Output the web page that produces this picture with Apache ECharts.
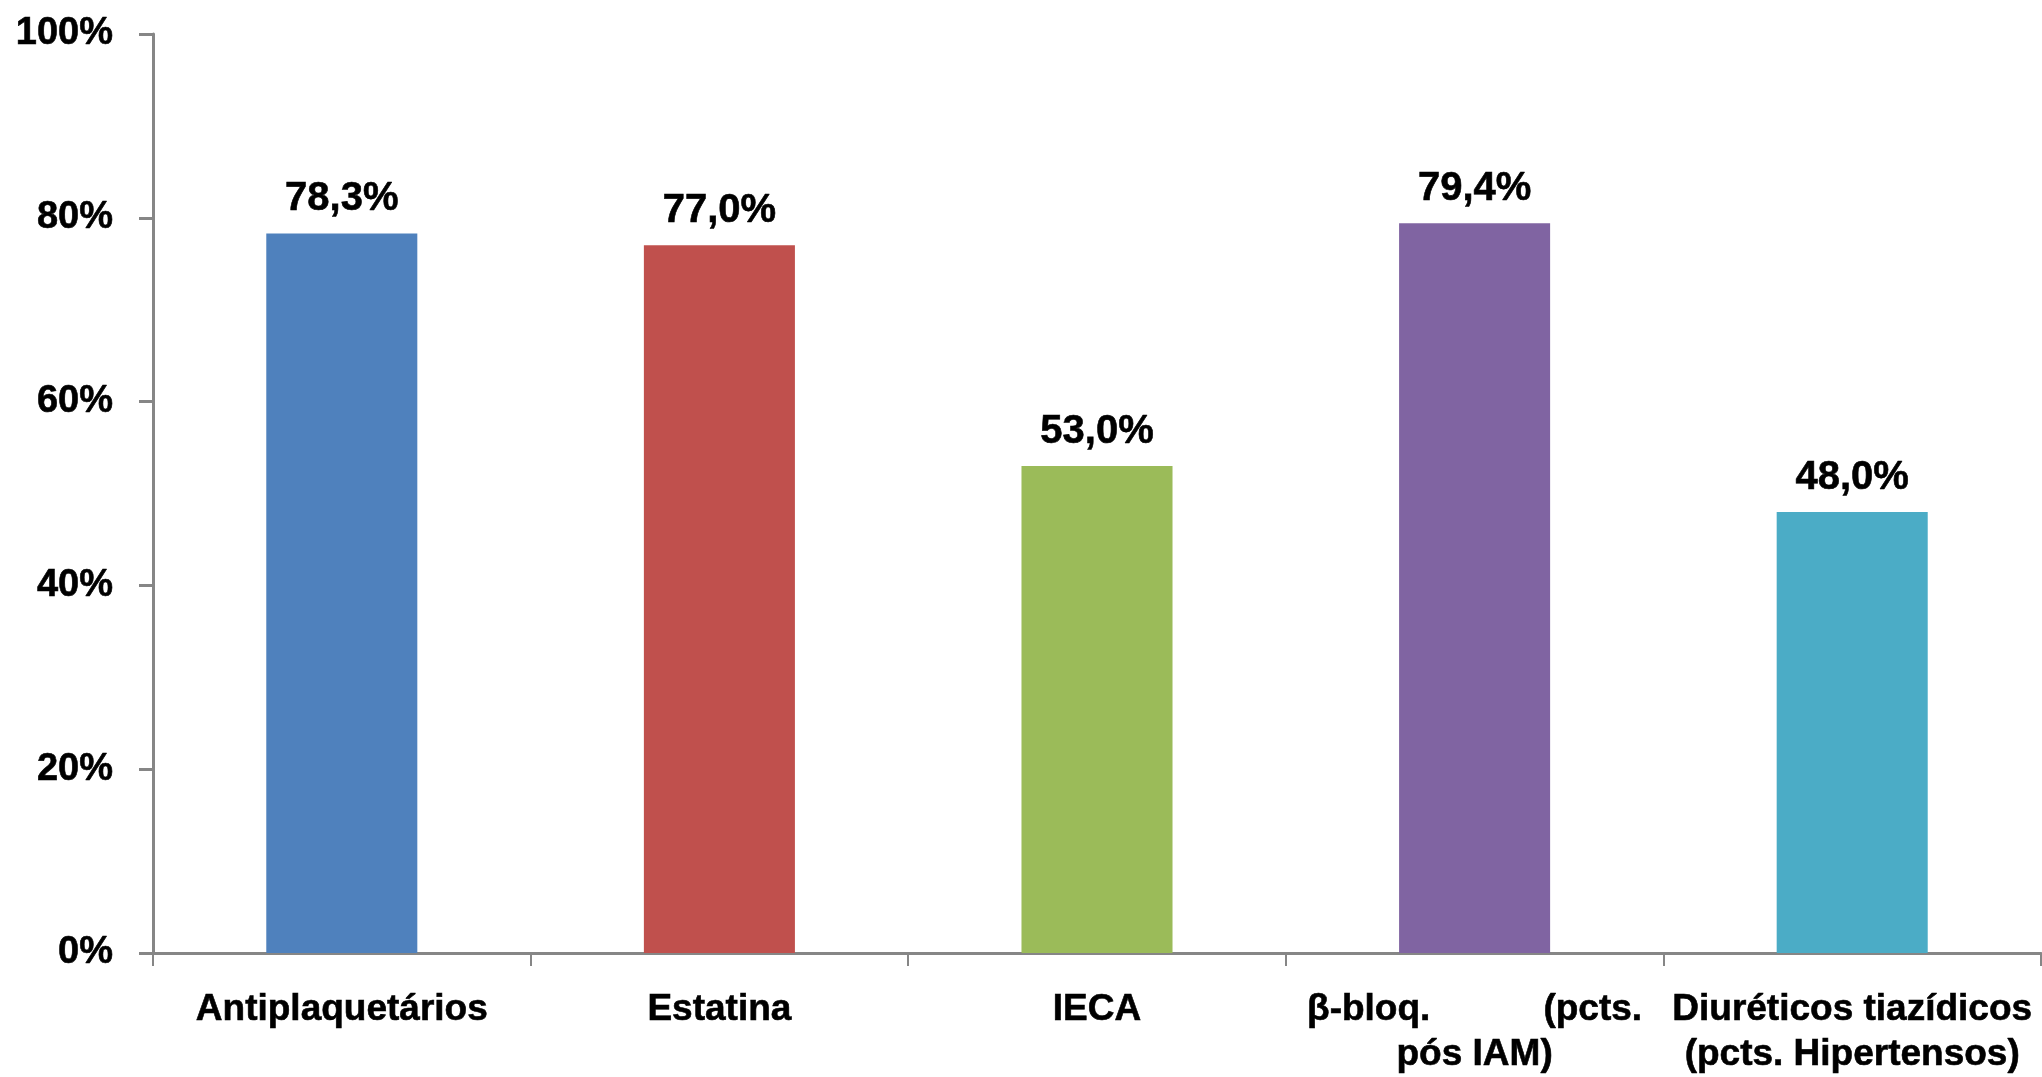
<!DOCTYPE html>
<html>
<head>
<meta charset="utf-8">
<script src="https://cdn.jsdelivr.net/npm/echarts@6/dist/echarts.min.js"></script>
<style>
  html, body { margin: 0; padding: 0; background: #fff; }
  #chart { width: 2042px; height: 1077px; }
</style>
</head>
<body>
<div id="chart"></div>
<script>
// Adesão à terapêutica por classe de fármaco
const categories = [
  'Antiplaquetários',
  'Estatina',
  'IECA',
  'β-bloq.           (pcts.\npós IAM)',
  'Diuréticos tiazídicos\n(pcts. Hipertensos)'
];
const values = [78.3, 77.0, 53.0, 79.4, 48.0];
const barColors = ['#4F81BD', '#C0504D', '#9BBB59', '#8064A2', '#4BACC6'];
const yTicks = [0, 20, 40, 60, 80, 100];

const FONT = '"Liberation Sans", Arial, sans-serif';
const axisGray = '#868686';

const chart = echarts.init(document.getElementById('chart'), null, { renderer: 'canvas' });

chart.setOption({
  backgroundColor: '#ffffff',
  animation: false,
  grid: { left: 153, right: 1, top: 34, bottom: 121, containLabel: false },
  xAxis: {
    type: 'category',
    data: categories,
    boundaryGap: true,
    axisLine: { show: true, lineStyle: { color: axisGray, width: 3 } },
    axisTick: { show: true, alignWithLabel: false, length: 13, lineStyle: { color: axisGray, width: 2 } },
    axisLabel: {
      interval: 0,
      margin: 34,
      color: '#000',
      fontFamily: FONT,
      fontWeight: 'bold',
      fontSize: 37,
      lineHeight: 45,
      textBorderColor: '#000',
      textBorderWidth: 0.6
    }
  },
  yAxis: {
    type: 'value',
    min: yTicks[0],
    max: yTicks[yTicks.length - 1],
    interval: yTicks[1] - yTicks[0],
    axisLine: { show: true, lineStyle: { color: axisGray, width: 3 } },
    axisTick: { show: true, inside: false, length: 14, lineStyle: { color: axisGray, width: 3 } },
    splitLine: { show: false },
    axisLabel: {
      margin: 40,
      color: '#000',
      fontFamily: FONT,
      fontWeight: 'bold',
      fontSize: 38,
      textBorderColor: '#000',
      textBorderWidth: 0.6,
      formatter: v => v + '%'
    }
  },
  series: [{
    type: 'bar',
    barWidth: '40%',
    data: values.map((v, i) => ({ value: v, itemStyle: { color: barColors[i] } })),
    label: {
      show: true,
      position: 'top',
      distance: 14,
      color: '#000',
      fontFamily: FONT,
      fontWeight: 'bold',
      fontSize: 40,
      textBorderColor: '#000',
      textBorderWidth: 0.6,
      formatter: p => p.value.toFixed(1).replace('.', ',') + '%'
    }
  }]
});
</script>
</body>
</html>
